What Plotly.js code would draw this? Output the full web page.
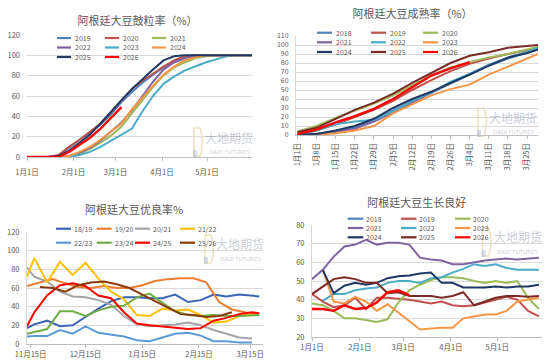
<!DOCTYPE html>
<html><head><meta charset="utf-8">
<script src="https://cdn.plot.ly/plotly-3.0.1.min.js"></script>
<style>
html,body{margin:0;padding:0;background:#fff;}
#wrap{position:relative;width:550px;height:364px;overflow:hidden;background:#fff;}
.p{position:absolute;width:275px;height:182px;}
</style></head><body>
<div id="wrap">
<div id="c1" class="p" style="left:0;top:0"></div>
<div id="c2" class="p" style="left:275px;top:0"></div>
<div id="c3" class="p" style="left:0;top:182px"></div>
<div id="c4" class="p" style="left:275px;top:182px"></div>
</div>
<script>
// ---------- Panel 1: 鼓粒率 ----------
const fillDates = ['2026-01-01','2026-01-08','2026-01-15','2026-01-22','2026-01-29','2026-02-05','2026-02-12','2026-02-19','2026-02-26','2026-03-05','2026-03-12','2026-03-19','2026-03-26','2026-04-02','2026-04-09','2026-04-16','2026-04-23','2026-04-30','2026-05-07','2026-05-14','2026-05-21','2026-05-28','2026-05-31'];
const fillNames = ['2019','2020','2021','2022','2023','2024','2025','2026'];
const fill2019 = [0,0,0,1,9,17,24,32,42,54,64,73,81,88,94,98,100,100,100,100,100,100,100];
const fill2020 = [0,0,0,2,10,17,25,33,44,56,67,75,82,89,95,99,100,100,100,100,100,100,100];
const fill2021 = [0,0,0,0,0,3,8,14,21,30,43,57,69,80,88,93,97,99,100,100,100,100,100];
const fill2022 = [0,0,0,0,1,4,9,16,25,34,46,60,74,86,93,97,99,100,100,100,100,100,100];
const fill2023 = [0,0,0,0,0,2,5,10,16,22,28,45,60,72,79,85,89,93,96,99,100,100,100];
const fill2024 = [0,0,0,0,1,5,10,17,25,33,47,59,70,81,89,95,98,100,100,100,100,100,100];
const fill2025 = [0,0,0,1,6,14,22,33,45,56,67,77,86,95,99,100,100,100,100,100,100,100,100];
const fill2026 = [0,0,0,0,5,12,19,28,39,49];
const fillTickVals = ['2026-01-01','2026-02-01','2026-03-01','2026-04-01','2026-05-01'];
const fillTickText = ['1月1日','2月1日','3月1日','4月1日','5月1日'];

// ---------- Panel 2: 成熟率 ----------
const matDates = ['2024-01-01','2024-01-08','2024-01-15','2024-01-22','2024-01-29','2024-02-05','2024-02-12','2024-02-19','2024-02-26','2024-03-04','2024-03-11','2024-03-18','2024-03-25','2024-03-29'];
const matNames = ['2018','2019','2020','2021','2022','2023','2024','2025','2026'];
const mat2018 = [0,1,4,9,17,27,37,47,57,67,77,85,91,95];
const mat2019 = [0,5,12,20,28,38,50,61,71,79,85,90,94,97];
const mat2020 = [4,10,19,27,35,44,55,66,75,81,86,90,95,98];
const mat2021 = [0,1,3,7,15,25,36,47,58,68,78,86,92,96];
const mat2022 = [0,5,12,15,17,26,38,47,59,68,78,86,92,97];
const mat2023 = [0,0,2,5,10,24,34,44,51,56,67,76,85,90];
const mat2024 = [0,1,5,10,18,30,40,48,58,67,77,86,91,95];
const mat2025 = [3,8,18,28,36,46,58,69,80,88,92,97,99,100];
const mat2026 = [1,6,14,21,29,40,53,66,74,81];
const matTickVals = ['2024-01-01','2024-01-08','2024-01-15','2024-01-22','2024-01-29','2024-02-05','2024-02-12','2024-02-19','2024-02-26','2024-03-04','2024-03-11','2024-03-18','2024-03-25'];
const matTickText = ['1月1日','1月8日','1月15日','1月22日','1月29日','2月5日','2月12日','2月19日','2月26日','3月4日','3月11日','3月18日','3月25日'];

// ---------- Panel 3: 优良率 ----------
const gdDatesA = ['2025-11-13','2025-11-20','2025-11-27','2025-12-04','2025-12-11','2025-12-18','2025-12-25','2026-01-01','2026-01-08','2026-01-15','2026-01-22','2026-01-29','2026-02-05','2026-02-12','2026-02-19','2026-02-26','2026-03-05','2026-03-12','2026-03-19'];
const gdDatesB = ['2025-11-13','2025-11-17','2025-11-24','2025-12-01','2025-12-08','2025-12-15','2025-12-22','2025-12-29','2026-01-05','2026-01-12','2026-01-19','2026-01-26','2026-02-02','2026-02-09','2026-02-16','2026-02-23','2026-03-02','2026-03-09','2026-03-16','2026-03-20'];
const gdNames = ['18/19','19/20','20/21','21/22','22/23','23/24','24/25','25/26'];
const gd1819 = [17,21,25,19,20,29,38,46,50,50,49,49,53,45,47,53,51,53,52,51];
const gd1920 = [62,66,69.5,65,61,60,62,60,60,63,67.5,69.5,70.5,70.5,66,45,37,34,32];
const gd2021 = [82,72,67,56,51,50,47,42,30,21,19,20,21,23,20,15,11,7,6];
const gd2122 = [72,92,66,88,74,87,70,56,48,31,30,38,36,37,31,23,24,30,32];
const gd2223 = [8,8.5,8.5,15,11,19,12,10,8,4,3,7,11,12,9,3,3,1.5,1.5];
const gd2324 = [11,13,16,35,35,30,36,40,41,50,54,44,35,31,30,31,30,30,30.5,31];
const gd2425 = [19,34,52,63,65,62,52,49,34,22,20,18.5,17,16,17,25,28,32,34,33];
const gd2526 = [null,61,60,56,63,66,67,64,60,53,46,39,32,31,29,30,34];
const gdTickVals = ['2025-11-15','2025-12-15','2026-01-15','2026-02-15','2026-03-15'];
const gdTickText = ['11月15日','12月15日','1月15日','2月15日','3月15日'];

// ---------- Panel 4: 生长良好 ----------
const grDates = ['2026-01-01','2026-01-08','2026-01-15','2026-01-22','2026-01-29','2026-02-05','2026-02-12','2026-02-19','2026-02-26','2026-03-05','2026-03-12','2026-03-19','2026-03-26','2026-04-02','2026-04-09','2026-04-16','2026-04-23','2026-04-30','2026-05-07','2026-05-14','2026-05-21','2026-05-28'];
const grNames = ['2018','2019','2020','2021','2022','2023','2024','2025','2026'];
const gr2018 = [];
const gr2019 = [43,39,36,37,41,35,41,41,40.5,40,39,38,39,37,36.5,37,38.5,40,41.5,40,34,31];
const gr2020 = [38,37,34,30,30,29,28,29.5,38.5,45,48,50.5,52,52,51.5,50,49,50,49,50,41,35];
const gr2021 = [51,56,63,68.5,69.5,72,69.5,70.5,70.5,69.5,62.5,61.5,61,59,59,60,61,61.5,62,61.5,62,62.5];
const gr2022 = [null,39.5,43,43,45,46,46.5,49,50,50,49,51.5,52,54.5,56.5,59,58,59,57,56,56,56];
const gr2023 = [null,56,39,38,41.5,39,34,37.5,33,28,24,24.5,25,25,30,31,32,32,34,39,40,41];
const gr2024 = [null,56,43.5,47.5,49,48,49,51.5,52.5,53,54,54.5,49,49,46.5,46.5,46.5,47,46.5,47,47,48];
const gr2025 = [43,47,51,52,51,49,49,43.5,44,42,42,42,41,42,44,37,39,41,42,42,41.5,42];
const gr2026 = [35,35,34,37,35,35.5,38.5,44,45,42.5];
const grTickVals = ['2026-01-01','2026-02-01','2026-03-01','2026-04-01','2026-05-01'];
const grTickText = ['1月1日','2月1日','3月1日','4月1日','5月1日'];

// ---------- colours ----------
const colA = {'2018':'#4f81bd','2019':'#c0504d','2020':'#9bbb59','2021':'#8064a2','2022':'#4bacc6','2023':'#f79646','2024':'#1f3864','2025':'#7b2a26','2026':'#ff0000'};
const colFill = {'2019':'#4f81bd','2020':'#c0504d','2021':'#9bbb59','2022':'#8064a2','2023':'#4bacc6','2024':'#f79646','2025':'#1f3864','2026':'#ff0000'};
const colGd = {'18/19':'#3a64b4','19/20':'#ed7d31','20/21':'#a5a5a5','21/22':'#ffc000','22/23':'#5b9bd5','23/24':'#70ad47','24/25':'#ff0000','25/26':'#8b3a0e'};

const FONT = '"Noto Sans CJK SC", "Noto Sans", sans-serif';
const TXT = '#595959';
const W = 275, H = 182;

function build(id, c) {
  const pw = W - c.l - c.r, ph = H - c.t - c.b;
  const px = v => (v - c.l) / pw;
  const py = v => (H - c.b - v) / ph;
  const traces = c.series.map(s => ({
    type: 'scatter', mode: 'lines', x: s.x, y: s.y, name: s.name,
    line: {color: s.color, width: s.width || 2}, hoverinfo: 'skip', showlegend: false,
    connectgaps: false
  }));
  const shapes = [], annotations = [];
  // watermark (drawn below data)
  const wmc = 'rgba(120,132,156,0.42)';
  annotations.push({xref:'paper', yref:'paper', x:px(c.wm[0]), y:py(c.wm[1]), xanchor:'center', yanchor:'middle',
    text:'大地期货', showarrow:false, font:{size:12, color:wmc, family:FONT}});
  annotations.push({xref:'paper', yref:'paper', x:px(c.wm[0]), y:py(c.wm[1] + 15), xanchor:'center', yanchor:'middle',
    text:'DADI FUTURES', showarrow:false, font:{size:5.5, color:wmc, family:'"DejaVu Sans", sans-serif'}});
  shapes.push({type:'path', xref:'paper', yref:'paper', layer:'below',
    path:'M' + px(c.wm[0]-35) + ',' + py(c.wm[1]-9) + ' L' + px(c.wm[0]-29) + ',' + py(c.wm[1]-9) +
         ' Q' + px(c.wm[0]-24) + ',' + py(c.wm[1]+5) + ' ' + px(c.wm[0]-29) + ',' + py(c.wm[1]+19) +
         ' L' + px(c.wm[0]-35) + ',' + py(c.wm[1]+19) + ' Z',
    line:{color:'rgba(214,186,110,0.45)', width:1.5}});
  shapes.push({type:'rect', xref:'paper', yref:'paper', x0:px(c.wm[0]-36), x1:px(c.wm[0]-32), y0:py(c.wm[1]+20), y1:py(c.wm[1]+13),
    fillcolor:'rgba(140,165,205,0.35)', line:{width:0}, layer:'below'});
  // manual legend
  c.legendOrder.forEach((si, k) => {
    const row = Math.floor(k / c.ncol), col = k % c.ncol;
    const x0 = c.colX[col], y0 = c.rowY[row];
    const s = c.series[si];
    shapes.push({type:'line', xref:'paper', yref:'paper', x0:px(x0), x1:px(x0 + c.len), y0:py(y0), y1:py(y0),
      line:{color:s.color, width:2.2}});
    annotations.push({xref:'paper', yref:'paper', x:px(x0 + c.len + c.gap), y:py(y0), xanchor:'left', yanchor:'middle',
      text:s.name, showarrow:false, font:{size:7, color:TXT, family:FONT}, borderpad:0});
  });

  const layout = {
    width: W, height: H, paper_bgcolor:'#fff', plot_bgcolor:'#fff',
    margin:{l:c.l, r:c.r, t:c.t, b:c.b, pad:0},
    font:{family:FONT, color:TXT, size:7.5},
    title:{text:c.title, font:{size:11, color:TXT, family:FONT}, xref:'container', yref:'container',
      x:c.titleX / W, xanchor:'center', y:1 - c.titleY / H, yanchor:'middle'},
    showlegend:false,
    xaxis:{type:'date', range:c.xRange, tickmode:'array', tickvals:c.tickVals, ticktext:c.tickText,
      tickangle:c.tickAngle || 0, showgrid:false, zeroline:false, showline:true, linecolor:'#bfbfbf', linewidth:1,
      ticks:'outside', ticklen:3, tickcolor:'#bfbfbf', tickfont:{size:7.5, color:TXT, family:FONT},
      ticklabelstandoff:c.xStand || 0, automargin:false, fixedrange:true},
    yaxis:{range:c.yRange, dtick:c.dtick, tick0:c.yRange[0], showgrid:true, gridcolor:'#d9d9d9', gridwidth:1,
      zeroline:false, showline:c.yLine, linecolor:'#d9d9d9', linewidth:1, ticks:'',
      tickfont:{size:c.yFont || 7.5, color:TXT, family:FONT}, ticklabelstandoff:c.yStand, automargin:false, fixedrange:true},
    shapes, annotations
  };
  Plotly.newPlot(id, traces, layout, {staticPlot:true, displayModeBar:false});
}

const fillSeries = [fill2019, fill2020, fill2021, fill2022, fill2023, fill2024, fill2025, fill2026]
  .map((y, i) => ({x: fillDates, y, name: fillNames[i], color: colFill[fillNames[i]], width: fillNames[i]==='2026' ? 2.4 : 2}));
build('c1', {l:27, r:23, t:35, b:25, title:'阿根廷大豆鼓粒率（%）', titleX:137.5, titleY:21,
  xRange:['2026-01-01','2026-05-31'], tickVals:fillTickVals, tickText:fillTickText, xStand:5,
  yRange:[0,120], dtick:20, yLine:false, yStand:6,
  series:fillSeries, legendOrder:[0,1,2,3,4,5,6,7], ncol:3, colX:[57,105,152], rowY:[38,47.5,57], len:14, gap:3,
  wm:[229,137]});

const matSeries = [mat2018, mat2019, mat2020, mat2021, mat2022, mat2023, mat2024, mat2025, mat2026]
  .map((y, i) => ({x: matDates, y, name: matNames[i], color: colA[matNames[i]], width: matNames[i]==='2026' ? 2.4 : 2}));
build('c2', {l:21, r:12, t:36, b:47, title:'阿根廷大豆成熟率（%）', titleX:137.5, titleY:14,
  xRange:['2023-12-31 12:00','2024-03-29'], tickVals:matTickVals, tickText:matTickText, tickAngle:-90, xStand:1,
  yRange:[0,110], dtick:10, yLine:true, yStand:5, yFont:7,
  series:matSeries, legendOrder:[0,1,2,3,4,5,6,7,8], ncol:3, colX:[42,96,148], rowY:[32.7,42.3,52], len:15, gap:2.5,
  wm:[238,117]});

const gdX = [gdDatesB, gdDatesA, gdDatesB, gdDatesB, gdDatesB, gdDatesB, gdDatesB, gdDatesA];
const gdSeries = [gd1819, gd1920, gd2021, gd2122, gd2223, gd2324, gd2425, gd2526]
  .map((y, i) => ({x: gdX[i], y, name: gdNames[i], color: colGd[gdNames[i]], width: 2}));
build('c3', {l:27, r:12, t:50, b:20, title:'阿根廷大豆优良率%', titleX:134, titleY:28,
  xRange:['2025-11-13','2026-03-22'], tickVals:gdTickVals, tickText:gdTickText, xStand:1.5,
  yRange:[0,120], dtick:20, yLine:true, yStand:5,
  series:gdSeries, legendOrder:[0,1,2,3,4,5,6,7], ncol:4, colX:[56,96.7,135,180], rowY:[46.7,60.7], len:15, gap:2,
  wm:[240,62]});

const grSeries = [gr2018, gr2019, gr2020, gr2021, gr2022, gr2023, gr2024, gr2025, gr2026]
  .map((y, i) => ({x: grDates, y, name: grNames[i], color: colA[grNames[i]], width: grNames[i]==='2026' ? 2.4 : 2}));
build('c4', {l:37, r:8, t:43, b:27, title:'阿根廷大豆生长良好', titleX:141.7, titleY:20.7,
  xRange:['2026-01-01','2026-05-30'], tickVals:grTickVals, tickText:grTickText, xStand:3.5,
  yRange:[20,80], dtick:10, yLine:true, yStand:5,
  series:grSeries, legendOrder:[0,1,2,3,4,5,6,7,8], ncol:3, colX:[72.7,126,180], rowY:[36.7,46,55.3], len:15.5, gap:1.5,
  wm:[242.5,55]});
</script>
</body></html>
